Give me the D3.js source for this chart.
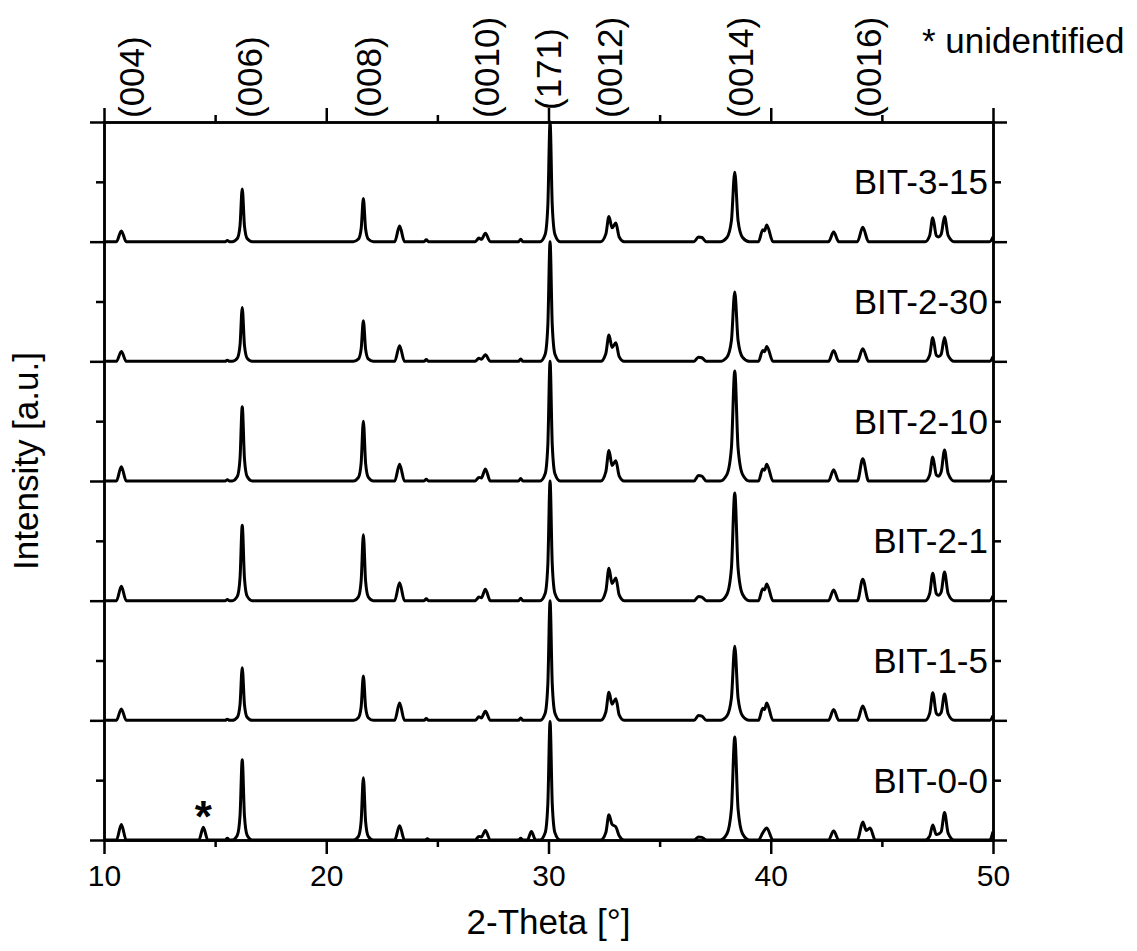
<!DOCTYPE html>
<html>
<head>
<meta charset="utf-8">
<script src="https://cdn.jsdelivr.net/npm/d3@7"></script>
<style>
  html, body { margin: 0; padding: 0; background: #fff; }
  svg { display: block; font-family: "Liberation Sans", Arial, sans-serif; }
</style>
</head>
<body>
<svg id="chart" width="1137" height="951"></svg>
<script>
// ---------------- data ----------------
// sample names, bottom to top (stack offset = index)
const sampleNames = ["BIT-0-0", "BIT-1-5", "BIT-2-1", "BIT-2-10", "BIT-2-30", "BIT-3-15"];

// x-tick values (2-Theta, degrees)
const xMajorTicks = [10, 20, 30, 40, 50];
const xMinorTicks = [15, 25, 35, 45];
// y-tick values (stack units)
const yMajorTicks = [0, 1, 2, 3, 4, 5, 6];
const yMinorTicks = [0.5, 1.5, 2.5, 3.5, 4.5, 5.5];

// reflection labels on top and their 2-Theta positions
const hklLabels = ["(004)", "(006)", "(008)", "(0010)", "(171)", "(0012)", "(0014)", "(0016)"];
const hklPositions = [11.25, 16.55, 21.88, 27.2, 30.0, 32.75, 38.65, 44.4];

// patterns: [2-Theta, normalized intensity]
const bit00 = [[10,0],[10.56,0],[10.78,0.13],[11.0,0],
[14.27,0],[14.47,0.106],[14.67,0],
[15.45,0],[15.55,0.015],[15.65,0],
[15.77,0],[16.0,0.04],[16.12,0.201],[16.22,0.67],[16.32,0.201],[16.44,0.04],[16.67,0],
[21.22,0],[21.45,0.031],[21.57,0.156],[21.67,0.52],[21.77,0.156],[21.89,0.031],[22.12,0],
[23.08,0],[23.3,0.12],[23.52,0],
[24.45,0],[24.55,0.01],[24.65,0],
[26.7,0],[26.87,0.03],[26.98,0.025],[27.16,0.08],[27.38,0],
[28.65,0],[28.75,0.015],[28.85,0],
[29.05,0],[29.23,0.07],[29.42,0],
[29.62,0],[29.85,0.06],[29.97,0.3],[30.07,0.99],[30.17,0.3],[30.29,0.06],[30.52,0],
[32.35,0],[32.58,0.063],[32.72,0.21],[32.86,0.13],[33.03,0.11],[33.18,0.035],[33.4,0],
[36.55,0],[36.75,0.025],[36.9,0.022],[37.1,0],
[37.73,0],[38.03,0.052],[38.23,0.258],[38.38,0.86],[38.53,0.258],[38.73,0.052],[39.03,0],
[39.45,0],[39.64,0.06],[39.82,0.1],[40.1,0],
[42.6,0],[42.83,0.075],[43.06,0],
[43.9,0],[44.14,0.15],[44.3,0.08],[44.47,0.1],[44.7,0],
[46.95,0],[47.15,0.031],[47.29,0.125],[47.45,0.045],[47.55,0.05],[47.67,0.07],[47.82,0.23],[47.98,0.058],[48.25,0],
[49.85,0],[50,0.07]];

const bit15 = [[10,0],[10.56,0],[10.78,0.095],[11.0,0],
[15.45,0],[15.55,0.01],[15.65,0],
[15.77,0],[16.0,0.026],[16.12,0.132],[16.22,0.44],[16.32,0.132],[16.44,0.026],[16.67,0],
[21.22,0],[21.45,0.022],[21.57,0.111],[21.67,0.37],[21.77,0.111],[21.89,0.022],[22.12,0],
[23.08,0],[23.3,0.145],[23.52,0],
[24.4,0],[24.5,0.015],[24.6,0],
[26.7,0],[26.87,0.03],[26.98,0.02],[27.16,0.075],[27.38,0],
[28.65,0],[28.75,0.02],[28.85,0],
[29.62,0],[29.85,0.06],[29.97,0.3],[30.07,1],[30.17,0.3],[30.29,0.06],[30.52,0],
[32.35,0],[32.58,0.07],[32.72,0.235],[32.86,0.135],[33.03,0.18],[33.18,0.045],[33.4,0],
[36.55,0],[36.75,0.04],[36.9,0.035],[37.1,0],
[37.73,0],[38.03,0.037],[38.23,0.186],[38.38,0.62],[38.53,0.186],[38.73,0.037],[39.03,0],
[39.45,0],[39.64,0.1],[39.72,0.09],[39.82,0.145],[40.1,0],
[42.6,0],[42.83,0.09],[43.06,0],
[43.9,0],[44.14,0.12],[44.4,0],
[46.95,0],[47.15,0.058],[47.29,0.23],[47.45,0.058],[47.55,0.045],[47.67,0.066],[47.82,0.22],[47.98,0.055],[48.25,0],
[49.85,0],[50,0.04]];

const bit21 = [[10,0],[10.56,0],[10.78,0.12],[11.0,0],
[15.45,0],[15.55,0.01],[15.65,0],
[15.77,0],[16.0,0.038],[16.12,0.189],[16.22,0.63],[16.32,0.189],[16.44,0.038],[16.67,0],
[21.22,0],[21.45,0.033],[21.57,0.165],[21.67,0.55],[21.77,0.165],[21.89,0.033],[22.12,0],
[23.08,0],[23.3,0.15],[23.52,0],
[24.4,0],[24.5,0.015],[24.6,0],
[26.7,0],[26.87,0.03],[26.98,0.025],[27.16,0.095],[27.38,0],
[28.65,0],[28.75,0.02],[28.85,0],
[29.62,0],[29.85,0.06],[29.97,0.3],[30.07,1],[30.17,0.3],[30.29,0.06],[30.52,0],
[32.35,0],[32.58,0.081],[32.72,0.27],[32.86,0.143],[33.03,0.19],[33.18,0.048],[33.4,0],
[36.55,0],[36.75,0.035],[36.9,0.03],[37.1,0],
[37.73,0],[38.03,0.054],[38.23,0.27],[38.38,0.9],[38.53,0.27],[38.73,0.054],[39.03,0],
[39.45,0],[39.64,0.1],[39.72,0.09],[39.82,0.14],[40.1,0],
[42.6,0],[42.83,0.09],[43.06,0],
[43.9,0],[44.14,0.18],[44.4,0],
[46.95,0],[47.15,0.058],[47.29,0.23],[47.45,0.058],[47.55,0.045],[47.67,0.072],[47.82,0.24],[47.98,0.06],[48.25,0],
[49.85,0],[50,0.04]];

const bit210 = [[10,0],[10.56,0],[10.78,0.12],[11.0,0],
[15.45,0],[15.55,0.01],[15.65,0],
[15.77,0],[16.0,0.037],[16.12,0.186],[16.22,0.62],[16.32,0.186],[16.44,0.037],[16.67,0],
[21.22,0],[21.45,0.03],[21.57,0.15],[21.67,0.5],[21.77,0.15],[21.89,0.03],[22.12,0],
[23.08,0],[23.3,0.14],[23.52,0],
[24.4,0],[24.5,0.015],[24.6,0],
[26.7,0],[26.87,0.03],[26.98,0.025],[27.16,0.1],[27.38,0],
[28.65,0],[28.75,0.02],[28.85,0],
[29.62,0],[29.85,0.06],[29.97,0.3],[30.07,1],[30.17,0.3],[30.29,0.06],[30.52,0],
[32.35,0],[32.58,0.077],[32.72,0.255],[32.86,0.13],[33.03,0.17],[33.18,0.043],[33.4,0],
[36.55,0],[36.75,0.045],[36.9,0.04],[37.1,0],
[37.73,0],[38.03,0.055],[38.23,0.276],[38.38,0.92],[38.53,0.276],[38.73,0.055],[39.03,0],
[39.45,0],[39.64,0.1],[39.72,0.09],[39.82,0.14],[40.1,0],
[42.6,0],[42.83,0.095],[43.06,0],
[43.9,0],[44.14,0.185],[44.4,0],
[46.95,0],[47.15,0.05],[47.29,0.2],[47.45,0.05],[47.55,0.04],[47.67,0.078],[47.82,0.26],[47.98,0.065],[48.25,0],
[49.85,0],[50,0.05]];

const bit230 = [[10,0],[10.56,0],[10.78,0.083],[11.0,0],
[15.45,0],[15.55,0.01],[15.65,0],
[15.77,0],[16.0,0.027],[16.12,0.135],[16.22,0.45],[16.32,0.135],[16.44,0.027],[16.67,0],
[21.22,0],[21.45,0.02],[21.57,0.102],[21.67,0.34],[21.77,0.102],[21.89,0.02],[22.12,0],
[23.08,0],[23.3,0.13],[23.52,0],
[24.4,0],[24.5,0.015],[24.6,0],
[26.7,0],[26.87,0.025],[26.98,0.018],[27.16,0.055],[27.38,0],
[28.65,0],[28.75,0.02],[28.85,0],
[29.62,0],[29.85,0.06],[29.97,0.3],[30.07,1],[30.17,0.3],[30.29,0.06],[30.52,0],
[32.35,0],[32.58,0.066],[32.72,0.22],[32.86,0.116],[33.03,0.155],[33.18,0.039],[33.4,0],
[36.55,0],[36.75,0.035],[36.9,0.03],[37.1,0],
[37.73,0],[38.03,0.035],[38.23,0.174],[38.38,0.58],[38.53,0.174],[38.73,0.035],[39.03,0],
[39.45,0],[39.64,0.09],[39.72,0.08],[39.82,0.125],[40.1,0],
[42.6,0],[42.83,0.09],[43.06,0],
[43.9,0],[44.14,0.105],[44.4,0],
[46.95,0],[47.15,0.05],[47.29,0.2],[47.45,0.05],[47.55,0.04],[47.67,0.06],[47.82,0.2],[47.98,0.05],[48.25,0],
[49.85,0],[50,0.04]];

const bit315 = [[10,0],[10.56,0],[10.78,0.09],[11.0,0],
[15.45,0],[15.55,0.01],[15.65,0],
[15.77,0],[16.0,0.026],[16.12,0.132],[16.22,0.44],[16.32,0.132],[16.44,0.026],[16.67,0],
[21.22,0],[21.45,0.022],[21.57,0.108],[21.67,0.36],[21.77,0.108],[21.89,0.022],[22.12,0],
[23.08,0],[23.3,0.13],[23.52,0],
[24.4,0],[24.5,0.015],[24.6,0],
[26.7,0],[26.87,0.03],[26.98,0.02],[27.16,0.07],[27.38,0],
[28.65,0],[28.75,0.02],[28.85,0],
[29.62,0],[29.85,0.06],[29.97,0.3],[30.07,1],[30.17,0.3],[30.29,0.06],[30.52,0],
[32.35,0],[32.58,0.063],[32.72,0.21],[32.86,0.116],[33.03,0.155],[33.18,0.039],[33.4,0],
[36.55,0],[36.75,0.04],[36.9,0.035],[37.1,0],
[37.73,0],[38.03,0.035],[38.23,0.174],[38.38,0.58],[38.53,0.174],[38.73,0.035],[39.03,0],
[39.45,0],[39.64,0.1],[39.72,0.09],[39.82,0.14],[40.1,0],
[42.6,0],[42.83,0.08],[43.06,0],
[43.9,0],[44.14,0.12],[44.4,0],
[46.95,0],[47.15,0.05],[47.29,0.2],[47.45,0.05],[47.55,0.04],[47.67,0.063],[47.82,0.21],[47.98,0.053],[48.25,0],
[49.85,0],[50,0.04]];

const patterns = [bit00, bit15, bit21, bit210, bit230, bit315];

// unidentified reflection marker
const starPosition = 14.47;
const starText = "*";
const noteText = "* unidentified";

// ---------------- drawing ----------------
const svg = d3.select("#chart");
const FONT = '"Liberation Sans", Arial, sans-serif';
const x = d3.scaleLinear().domain([10, 50]).range([104, 993]);
const y = d3.scaleLinear().domain([0, 6]).range([840, 122]);
const AXW = 2.5;

function styleAxis(g) {
  g.selectAll("path.domain").attr("stroke", "#000").attr("stroke-width", AXW).attr("stroke-linecap", "square");
  g.selectAll(".tick line").attr("stroke", "#000").attr("stroke-width", AXW);
  g.selectAll(".tick text").attr("fill", "#000").style("font-family", FONT).style("font-size", "30px");
}

// patterns
const line = d3.line()
  .x(d => x(d[0]))
  .y(d => d[1])
  .curve(d3.curveMonotoneX);

svg.append("g").selectAll("path.pattern")
  .data(patterns)
  .join("path")
  .attr("class", "pattern")
  .attr("fill", "none")
  .attr("stroke", "#000")
  .attr("stroke-width", 3)
  .attr("stroke-linejoin", "round")
  .attr("d", (p, i) => line(p.map(d => [d[0], y(i + d[1])])));

// axes
const gB = svg.append("g").attr("transform", "translate(0,840)");
gB.call(d3.axisBottom(x).tickValues(xMajorTicks).tickSize(14).tickSizeOuter(0).tickPadding(11).tickFormat(d3.format("d")));
svg.append("g").attr("transform", "translate(0,840)")
  .call(d3.axisBottom(x).tickValues(xMinorTicks).tickSize(7).tickSizeOuter(0).tickFormat(""))
  .call(styleAxis);
styleAxis(gB);

svg.append("g").attr("transform", "translate(0,122)")
  .call(d3.axisTop(x).tickValues(xMajorTicks).tickSize(14).tickSizeOuter(0).tickFormat(""))
  .call(styleAxis);
svg.append("g").attr("transform", "translate(0,122)")
  .call(d3.axisTop(x).tickValues(xMinorTicks).tickSize(7).tickSizeOuter(0).tickFormat(""))
  .call(styleAxis);

svg.append("g").attr("transform", "translate(104,0)")
  .call(d3.axisLeft(y).tickValues(yMajorTicks).tickSize(14).tickSizeOuter(0).tickFormat(""))
  .call(styleAxis);
svg.append("g").attr("transform", "translate(104,0)")
  .call(d3.axisLeft(y).tickValues(yMinorTicks).tickSize(8).tickSizeOuter(0).tickFormat(""))
  .call(styleAxis);

svg.append("g").attr("transform", "translate(993,0)")
  .call(d3.axisRight(y).tickValues(yMajorTicks).tickSize(14).tickSizeOuter(0).tickFormat(""))
  .call(styleAxis);
svg.append("g").attr("transform", "translate(993,0)")
  .call(d3.axisRight(y).tickValues(yMinorTicks).tickSize(8).tickSizeOuter(0).tickFormat(""))
  .call(styleAxis);

// sample labels
svg.append("g").selectAll("text.sample")
  .data(sampleNames)
  .join("text")
  .attr("class", "sample")
  .attr("x", 988)
  .attr("y", (d, i) => y(i + 0.5))
  .attr("text-anchor", "end")
  .attr("dominant-baseline", "central")
  .style("font-family", FONT)
  .style("font-size", "35px")
  .attr("fill", "#000")
  .text(d => d);

// hkl labels (rotated)
svg.append("g").selectAll("text.hkl")
  .data(hklLabels)
  .join("text")
  .attr("class", "hkl")
  .attr("transform", (d, i) => `translate(${x(hklPositions[i])},${d === "(171)" ? 110 : 118}) rotate(-90)`)
  .attr("text-anchor", "start")
  .attr("dominant-baseline", "central")
  .style("font-family", FONT)
  .style("font-size", "35px")
  .attr("fill", "#000")
  .text(d => d);

// note
svg.append("text")
  .attr("x", 922).attr("y", 53)
  .style("font-family", FONT).style("font-size", "35px")
  .attr("fill", "#000")
  .text(noteText);

// star marker
svg.append("text")
  .attr("x", x(starPosition)).attr("y", 832)
  .attr("text-anchor", "middle")
  .style("font-family", FONT).style("font-size", "44px").style("font-weight", "bold")
  .attr("fill", "#000")
  .text(starText);

// axis titles
svg.append("text")
  .attr("x", (x(10) + x(50)) / 2).attr("y", 934)
  .attr("text-anchor", "middle")
  .style("font-family", FONT).style("font-size", "35px")
  .attr("fill", "#000")
  .text("2-Theta [°]");

svg.append("text")
  .attr("transform", "translate(25,461) rotate(-90)")
  .attr("text-anchor", "middle")
  .attr("dominant-baseline", "central")
  .style("font-family", FONT).style("font-size", "35px")
  .attr("fill", "#000")
  .text("Intensity [a.u.]");
</script>
</body>
</html>
